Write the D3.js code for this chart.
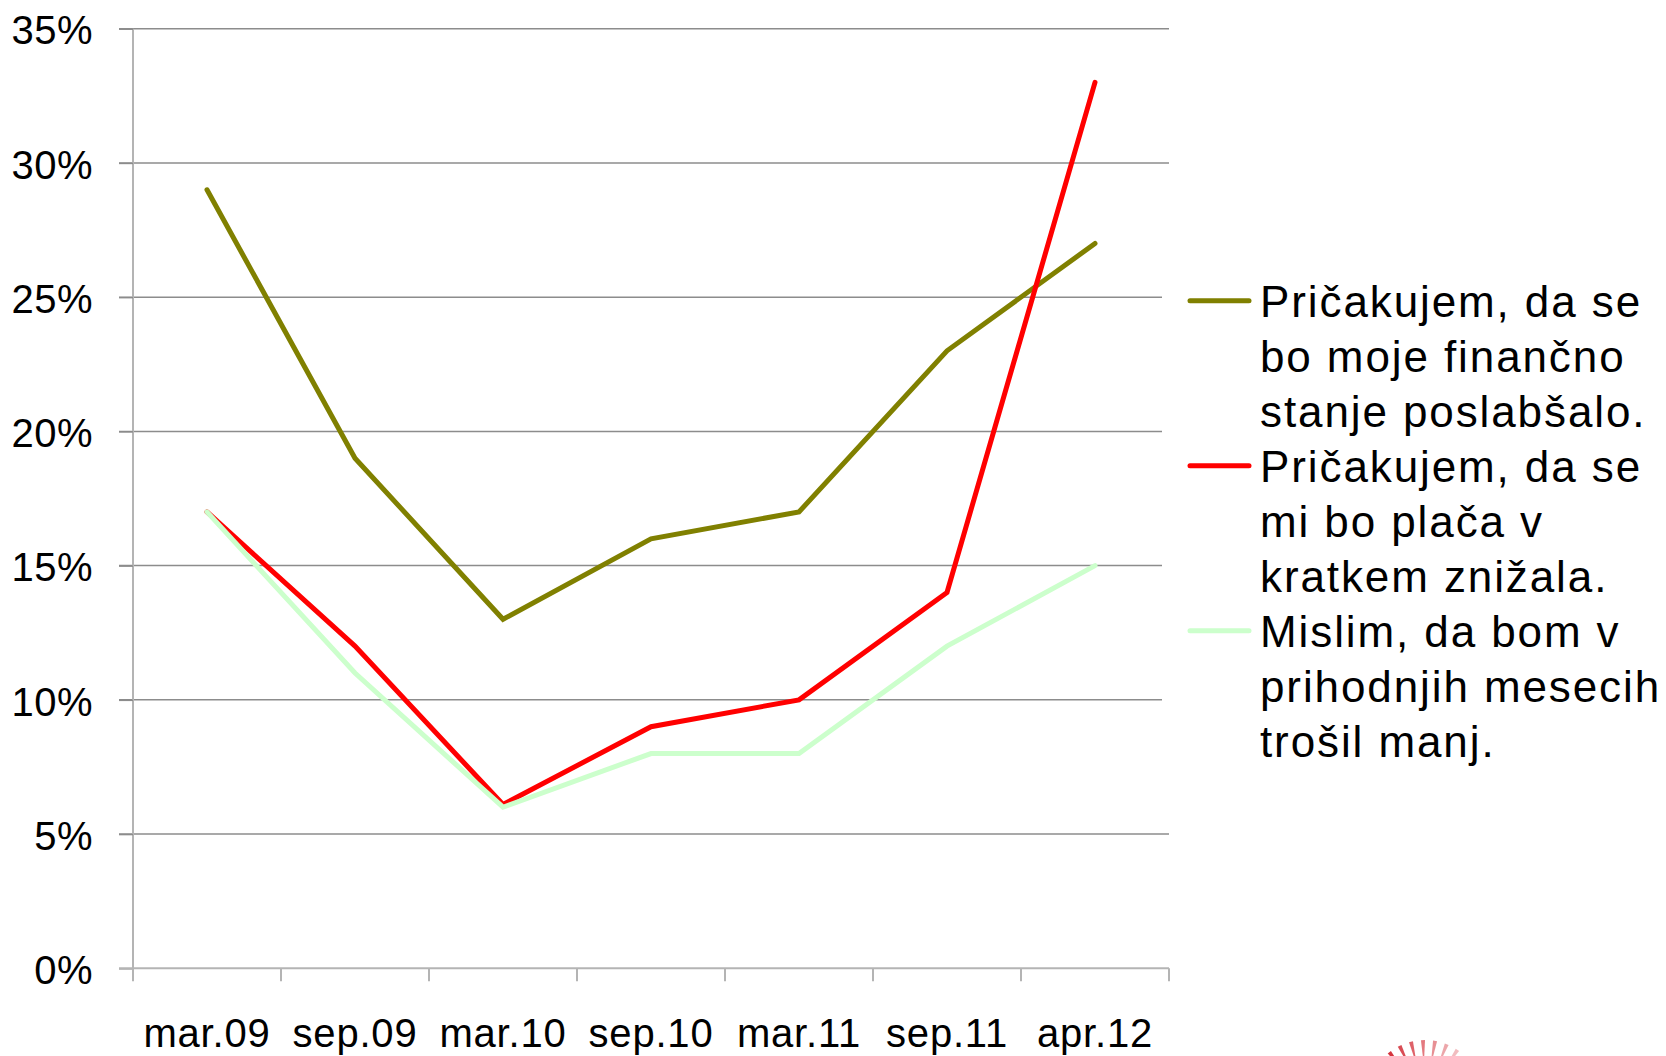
<!DOCTYPE html>
<html>
<head>
<meta charset="utf-8">
<script src="https://cdn.jsdelivr.net/npm/d3@7"></script>
<style>
  html, body { margin: 0; padding: 0; background: #fff; }
  svg { display: block; font-family: "Liberation Sans", Arial, sans-serif; }
</style>
</head>
<body>
<svg id="chart" width="1666" height="1056"></svg>
<script>
// ---- data ----
const categories = ["mar.09", "sep.09", "mar.10", "sep.10", "mar.11", "sep.11", "apr.12"];
const financeWorse = [29, 19, 13, 16, 17, 23, 27];
const salaryLower  = [17, 12, 6.1, 9, 10, 14, 33];
const spendLess    = [17, 11, 6, 8, 8, 12, 15];
const yTickValues  = [0, 5, 10, 15, 20, 25, 30, 35];
const seriesNames = [
  ["Pričakujem, da se", "bo moje finančno", "stanje poslabšalo."],
  ["Pričakujem, da se", "mi bo plača v", "kratkem znižala."],
  ["Mislim, da bom v", "prihodnjih mesecih", "trošil manj."]
];
const seriesColors = ["#808000", "#ff0000", "#ccffcc"];

(function () {
const series = [financeWorse, salaryLower, spendLess].map((vals, i) => ({
  name: seriesNames[i], color: seriesColors[i],
  values: vals.map((v, j) => ({ cat: categories[j], v }))
}));

// ---- layout ----
const pLeft = 133, pRight = 1169, pTop = 28.7, pBottom = 968.3;
const svg = d3.select("#chart");

const x = d3.scaleBand().domain(categories).range([pLeft, pRight]).padding(0);
const y = d3.scaleLinear().domain([0, 35]).range([pBottom, pTop]);

// gridlines
svg.append("g").selectAll("line")
  .data(yTickValues.filter(d => d > 0))
  .join("line")
  .attr("x1", pLeft - 14).attr("x2", pRight)
  .attr("y1", d => y(d)).attr("y2", d => y(d))
  .attr("stroke", "#8c8c8c").attr("stroke-width", 1.5);

// y axis
const yAxis = d3.axisLeft(y).tickValues(yTickValues)
  .tickFormat(d => d + "%").tickSize(14).tickSizeOuter(0).tickPadding(26);
const gy = svg.append("g").attr("transform", `translate(${pLeft},0)`).call(yAxis);
gy.select(".domain").attr("stroke", "#b4b4b4").attr("stroke-width", 2)
  .attr("d", `M0,${pTop}V${pBottom}`);
gy.selectAll(".tick line").attr("stroke", "#8c8c8c").attr("stroke-width", 1.5);
gy.selectAll(".tick text").attr("font-size", 40).attr("fill", "#000")
  .attr("letter-spacing", "0.5px")
  .attr("font-family", "Liberation Sans, Arial, sans-serif").attr("dy", "0.38em");

// x axis
const xAxis = d3.axisBottom(x).tickSize(0).tickSizeOuter(0).tickPadding(0);
const gx = svg.append("g").attr("transform", `translate(0,${pBottom})`).call(xAxis);
gx.select(".domain").attr("stroke", "#b4b4b4").attr("stroke-width", 2)
  .attr("d", `M${pLeft - 14},0H${pRight}`);
gx.selectAll(".tick text").attr("font-size", 40).attr("fill", "#000")
  .attr("letter-spacing", "0.8px")
  .attr("font-family", "Liberation Sans, Arial, sans-serif")
  .attr("y", 1047 - pBottom).attr("dy", 0);
// tick marks at category boundaries
const boundaries = categories.map(c => x(c)).concat([x(categories[categories.length - 1]) + x.bandwidth()]);
gx.append("g").selectAll("line").data(boundaries).join("line")
  .attr("x1", d => d).attr("x2", d => d).attr("y1", 0).attr("y2", 13)
  .attr("stroke", "#b4b4b4").attr("stroke-width", 2);

// legend background (covers gridline ends)
svg.append("rect").attr("x", 1162).attr("y", 250).attr("width", 504).attr("height", 540)
  .attr("fill", "#fff");

// lines
const line = d3.line().x(d => x(d.cat) + x.bandwidth() / 2).y(d => y(d.v));
svg.append("g").selectAll("path").data(series).join("path")
  .attr("d", d => line(d.values))
  .attr("fill", "none").attr("stroke", d => d.color)
  .attr("stroke-width", 5).attr("stroke-linecap", "round").attr("stroke-linejoin", "miter");

// legend
const lg = svg.append("g");
const baseY = 316.7, lh = 55;
series.forEach((s, i) => {
  const b = baseY + i * 3 * lh;
  lg.append("line").attr("x1", 1190).attr("x2", 1249)
    .attr("y1", b - 16).attr("y2", b - 16)
    .attr("stroke", s.color).attr("stroke-width", 5).attr("stroke-linecap", "round");
  s.name.forEach((t, k) => {
    lg.append("text").attr("x", 1260).attr("y", b + k * lh)
      .attr("font-size", 44).attr("letter-spacing", "1.9px").attr("fill", "#000")
      .text(t);
  });
});

// partial logo at bottom right (decorative rays)
const logo = svg.append("g").attr("transform", "translate(1425,1098)");
const rayAngles = [-140, -128, -116, -104, -92, -80, -68, -56];
logo.selectAll("path").data(rayAngles).join("path")
  .attr("d", a => {
    const r = a * Math.PI / 180, r1 = 40, r2 = 58, w = 0.035;
    const p = (rad, ang) => [rad * Math.cos(ang), rad * Math.sin(ang)];
    const [ax, ay] = p(r1, r - w * 0.4), [bx, by] = p(r2, r - w), [cx, cy] = p(r2, r + w), [dx, dy] = p(r1, r + w * 0.4);
    return `M${ax},${ay}L${bx},${by}L${cx},${cy}L${dx},${dy}Z`;
  })
  .attr("fill", "#d0202a")
  .attr("opacity", (a, i) => 1 - i * 0.1);
})();
</script>
</body>
</html>
